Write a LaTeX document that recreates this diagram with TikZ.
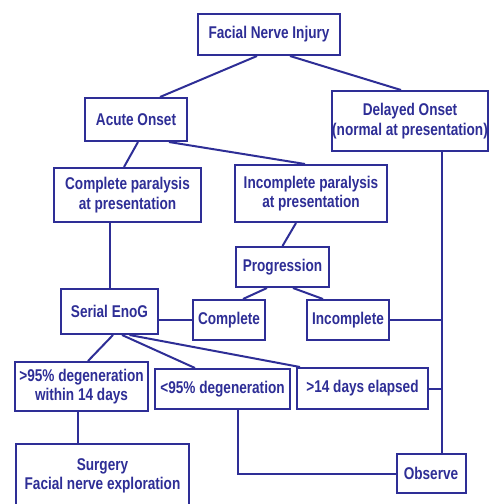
\documentclass[tikz,border=0pt]{standalone}
\usepackage{fontspec}
\setmainfont{Liberation Sans}[FakeStretch=0.8]
\definecolor{navy}{RGB}{46,46,150}
\tikzset{
	box/.style={draw=navy, line width=2pt, fill=white, text=navy, align=center,
	inner sep=0pt, font=\fontsize{17}{19.5}\selectfont\bfseries},
	link/.style={draw=navy, line width=2pt}
}
\begin{document}
\begin{tikzpicture}[x=1pt, y=-1pt]
	\useasboundingbox (0, 0) rectangle (490, 504);
	% Kaesten
	\node[box, minimum width=142pt, minimum height=41pt] (fni) at (269, 34.5) {Facial Nerve Injury};
	\node[box, minimum width=102pt, minimum height=43pt] (acute) at (136, 119.5) {Acute Onset};
	\node[box, minimum width=156pt, minimum height=60pt] (delayed) at (410, 121) {Delayed Onset\\(normal at presentation)};
	\node[box, minimum width=147pt, minimum height=54pt] (cpar) at (127.5, 195) {Complete paralysis\\at presentation};
	\node[box, minimum width=152pt, minimum height=57pt] (ipar) at (311, 193.5) {Incomplete paralysis\\at presentation};
	\node[box, minimum width=93pt, minimum height=40pt] (prog) at (282.5, 267) {Progression};
	\node[box, minimum width=97pt, minimum height=45pt] (enog) at (109.5, 311.5) {Serial EnoG};
	\node[box, minimum width=72pt, minimum height=40pt] (comp) at (229, 320) {Complete};
	\node[box, minimum width=82pt, minimum height=40pt] (incomp) at (348, 320) {Incomplete};
	\node[box, minimum width=133pt, minimum height=49pt] (deg1) at (81.5, 386.5) {>95\% degeneration\\within 14 days};
	\node[box, minimum width=135pt, minimum height=40pt] (deg2) at (222.5, 389) {<95\% degeneration};
	\node[box, minimum width=131pt, minimum height=41pt] (days) at (362.5, 388.5) {>14 days elapsed};
	\node[box, minimum width=173pt, minimum height=64pt] (surg) at (102.5, 476) {Surgery\\Facial nerve exploration};
	\node[box, minimum width=69pt, minimum height=39pt] (obs) at (431, 473.5) {Observe};
	% Verbindungen
	\coordinate (rail) at ([xshift=32pt]delayed.south);
	\path[link] ([xshift=-12pt]fni.south) -- ([xshift=24pt]acute.north);
	\path[link] ([xshift=21pt]fni.south) -- ([xshift=-9pt]delayed.north);
	\path[link] ([xshift=2pt]acute.south) -- ([xshift=-3.5pt]cpar.north);
	\path[link] ([xshift=33pt]acute.south) -- ([xshift=-6pt]ipar.north);
	\path[link] (rail) -- (rail |- obs.north);
	\path[link] (enog.north) -- (enog.north |- cpar.south);
	\path[link] ([xshift=-15pt]ipar.south) -- (prog.north);
	\path[link] ([xshift=-15.5pt]prog.south) -- ([xshift=14pt]comp.north);
	\path[link] ([xshift=10.5pt]prog.south) -- ([xshift=-25pt]incomp.north);
	\path[link] (comp.west -| enog.east) -- (comp.west);
	\path[link] (incomp.east) -- (incomp.east -| rail);
	\path[link] (days.east) -- (days.east -| rail);
	\path[link] ([xshift=3.5pt]enog.south) -- ([xshift=6.5pt]deg1.north);
	\path[link] ([xshift=12.5pt]enog.south) -- ([xshift=-27.5pt]deg2.north);
	\path[link] ([xshift=20pt]enog.south) -- ([xshift=-62.5pt]days.north);
	\path[link] ([xshift=-3.5pt]deg1.south) -- ([xshift=-24.5pt]surg.north);
	\path[link] ([xshift=15.5pt]deg2.south) |- (obs.west);
\end{tikzpicture}
\end{document}
